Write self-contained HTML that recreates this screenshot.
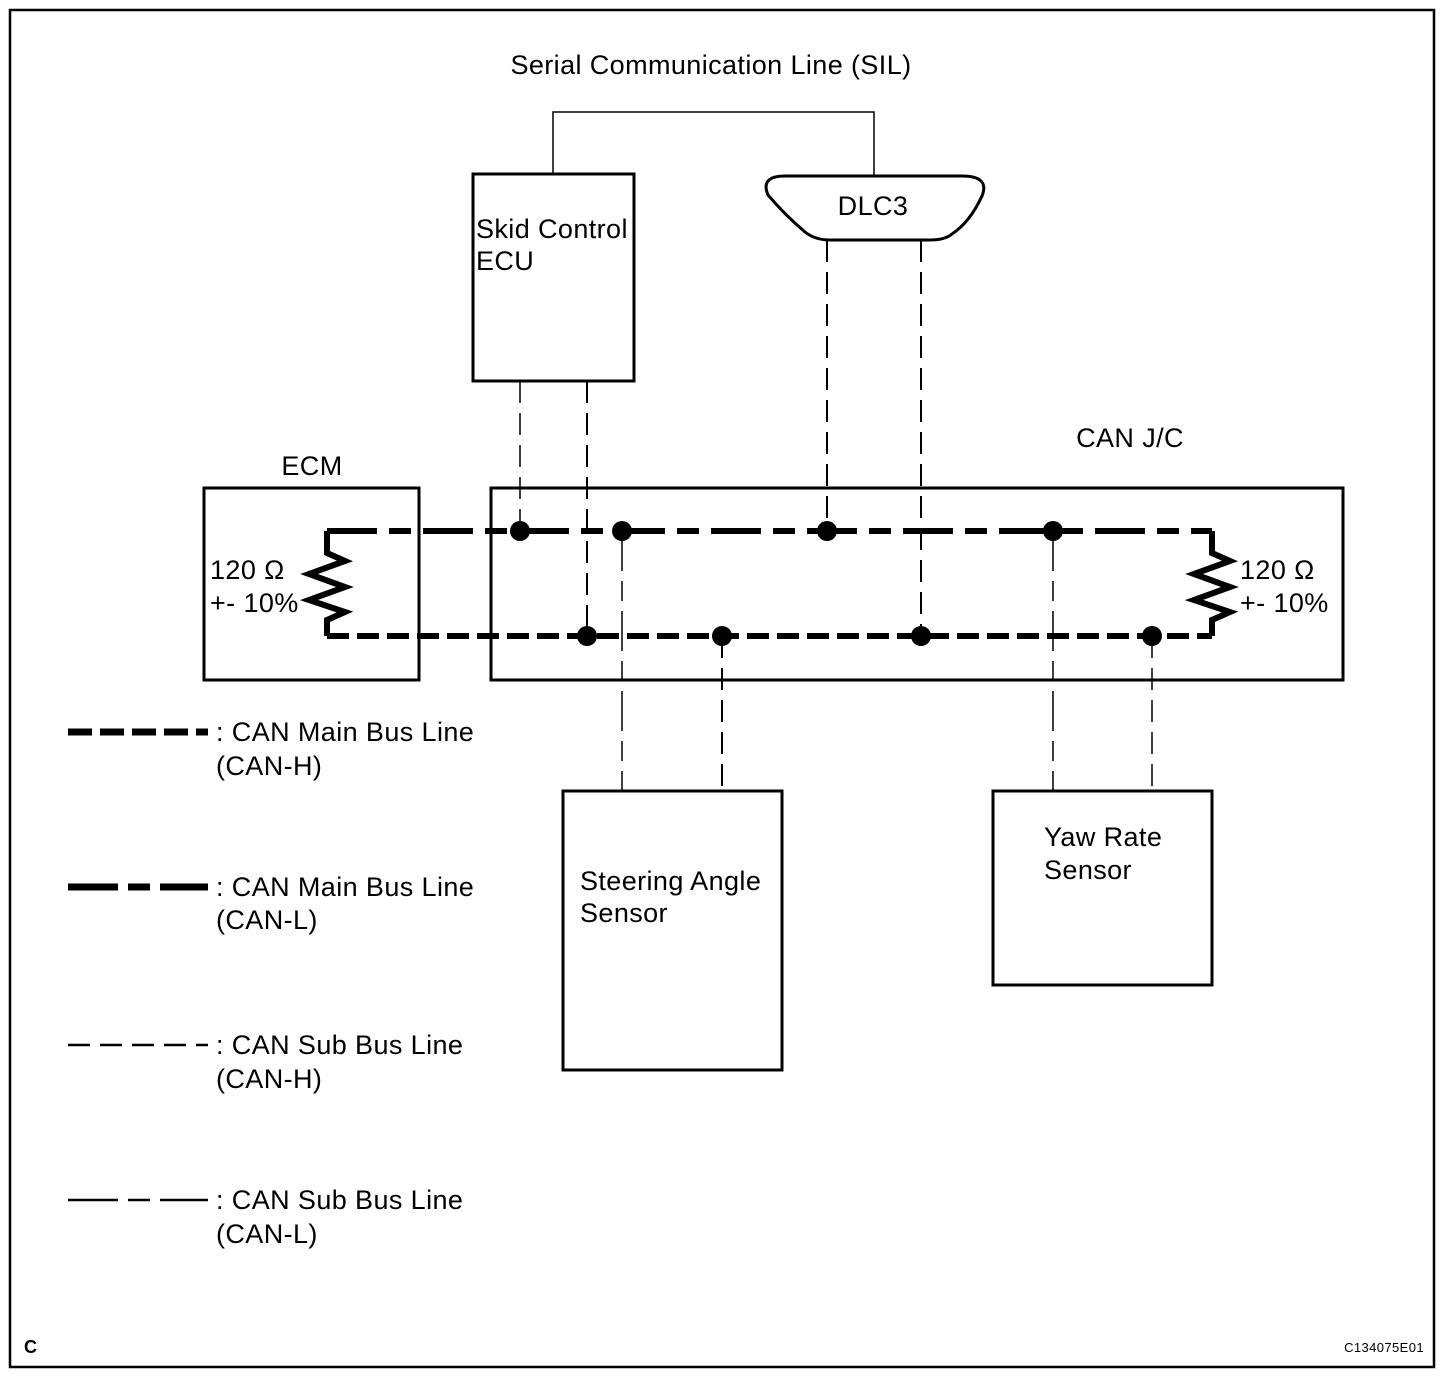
<!DOCTYPE html>
<html><head><style>
html,body{margin:0;padding:0;background:#fff}
svg{display:block}
text{font-family:"Liberation Sans",Arial,sans-serif;fill:#000;letter-spacing:0.4px}
</style></head><body>
<svg width="1456" height="1378" viewBox="0 0 1456 1378" xmlns="http://www.w3.org/2000/svg">
<rect x="10" y="10" width="1424" height="1357" fill="none" stroke="#000" stroke-width="2.5"/>
<text x="711" y="74" font-size="27" text-anchor="middle">Serial Communication Line (SIL)</text>
<polyline points="553,174 553,112 874,112 874,176" fill="none" stroke="#000" stroke-width="1.5"/>
<rect x="473" y="174" width="161" height="207" fill="none" stroke="#000" stroke-width="3"/>
<text x="476" y="238" font-size="27">Skid Control</text>
<text x="476" y="270" font-size="27">ECU</text>
<path d="M785,176 L962,176 Q990,176 982,196 Q970,222 952,234 Q945,240 930,240 L830,240 Q815,240 805,232 Q785,215 768,195 Q760,176 785,176 Z" fill="none" stroke="#000" stroke-width="3"/>
<text x="873" y="215" font-size="27" text-anchor="middle">DLC3</text>
<text x="312" y="475" font-size="27" text-anchor="middle">ECM</text>
<text x="1130" y="447" font-size="27" text-anchor="middle">CAN J/C</text>
<rect x="204" y="488" width="215" height="192" fill="none" stroke="#000" stroke-width="3"/>
<rect x="491" y="488" width="852" height="192" fill="none" stroke="#000" stroke-width="3"/>
<line x1="520" y1="381" x2="520" y2="531" stroke="#000" stroke-width="1.5" stroke-dasharray="22,10"/>
<line x1="587" y1="381" x2="587" y2="636" stroke="#000" stroke-width="2" stroke-dasharray="22,10"/>
<line x1="827" y1="240" x2="827" y2="531" stroke="#000" stroke-width="2" stroke-dasharray="22,10"/>
<line x1="921" y1="240" x2="921" y2="636" stroke="#000" stroke-width="2" stroke-dasharray="22,10"/>
<line x1="622" y1="531" x2="622" y2="791" stroke="#000" stroke-width="1.5" stroke-dasharray="40,10,20,10"/>
<line x1="722" y1="636" x2="722" y2="791" stroke="#000" stroke-width="2" stroke-dasharray="22,10"/>
<line x1="1053" y1="531" x2="1053" y2="791" stroke="#000" stroke-width="1.5" stroke-dasharray="40,10,20,10"/>
<line x1="1152" y1="636" x2="1152" y2="791" stroke="#000" stroke-width="1.5" stroke-dasharray="22,10"/>
<line x1="327" y1="531" x2="1212" y2="531" stroke="#000" stroke-width="6" stroke-dasharray="50,12,22,12"/>
<line x1="327" y1="636" x2="1212" y2="636" stroke="#000" stroke-width="6" stroke-dasharray="22,8"/>
<polyline points="327,531 327,553 345,561 309,574 345,587 309,600 345,612 327,620 327,636" fill="none" stroke="#000" stroke-width="6"/>
<polyline points="1212,531 1212,553 1230,561 1194,574 1230,587 1194,600 1230,612 1212,620 1212,636" fill="none" stroke="#000" stroke-width="6"/>
<text x="210" y="579" font-size="27">120 Ω</text>
<text x="210" y="612" font-size="27">+- 10%</text>
<text x="1240" y="579" font-size="27">120 Ω</text>
<text x="1240" y="612" font-size="27">+- 10%</text>
<g fill="#000">
<circle cx="520" cy="531" r="10"/><circle cx="622" cy="531" r="10"/><circle cx="827" cy="531" r="10"/><circle cx="1053" cy="531" r="10"/>
<circle cx="587" cy="636" r="10"/><circle cx="722" cy="636" r="10"/><circle cx="921" cy="636" r="10"/><circle cx="1152" cy="636" r="10"/>
</g>
<rect x="563" y="791" width="219" height="279" fill="none" stroke="#000" stroke-width="3"/>
<text x="580" y="890" font-size="27">Steering Angle</text>
<text x="580" y="922" font-size="27">Sensor</text>
<rect x="993" y="791" width="219" height="194" fill="none" stroke="#000" stroke-width="3"/>
<text x="1044" y="846" font-size="27">Yaw Rate</text>
<text x="1044" y="879" font-size="27">Sensor</text>
<line x1="68" y1="732" x2="208" y2="732" stroke="#000" stroke-width="7" stroke-dasharray="24,8"/>
<text x="216" y="741" font-size="27">: CAN Main Bus Line</text>
<text x="216" y="775" font-size="27">(CAN-H)</text>
<line x1="68" y1="887" x2="208" y2="887" stroke="#000" stroke-width="7" stroke-dasharray="50,10,22,10"/>
<text x="216" y="896" font-size="27">: CAN Main Bus Line</text>
<text x="216" y="929" font-size="27">(CAN-L)</text>
<line x1="68" y1="1045" x2="208" y2="1045" stroke="#000" stroke-width="2.5" stroke-dasharray="22,10"/>
<text x="216" y="1054" font-size="27">: CAN Sub Bus Line</text>
<text x="216" y="1088" font-size="27">(CAN-H)</text>
<line x1="68" y1="1200" x2="208" y2="1200" stroke="#000" stroke-width="2.5" stroke-dasharray="50,10,22,10"/>
<text x="216" y="1209" font-size="27">: CAN Sub Bus Line</text>
<text x="216" y="1243" font-size="27">(CAN-L)</text>
<text x="24" y="1353" font-size="18" font-weight="bold">C</text>
<text x="1424" y="1352" font-size="13" text-anchor="end">C134075E01</text>
</svg>
</body></html>
